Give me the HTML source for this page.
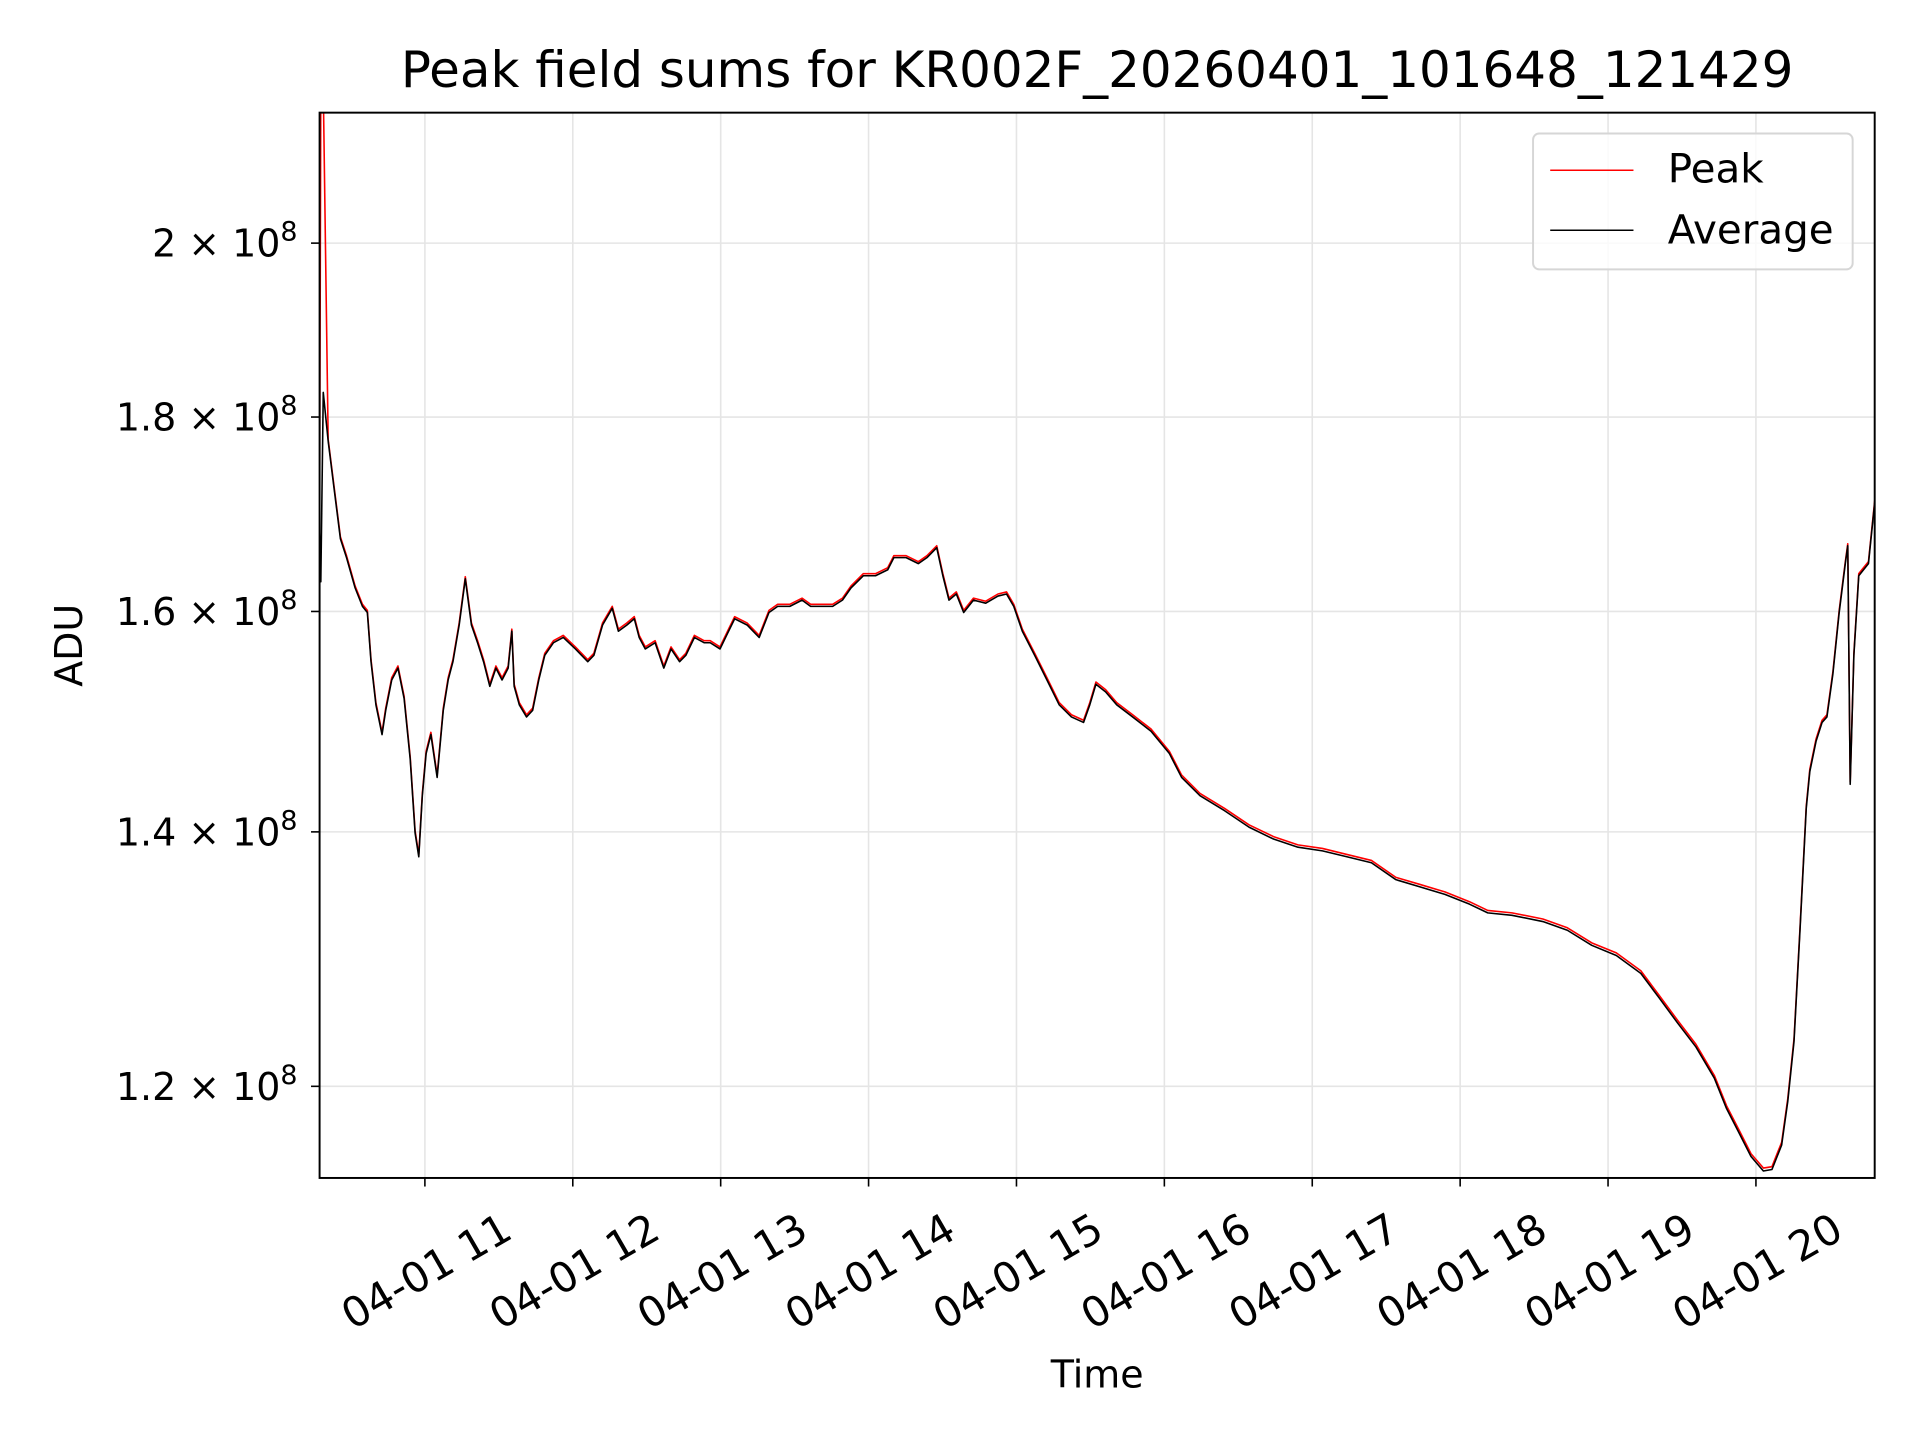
<!DOCTYPE html>
<html><head><meta charset="utf-8"><style>
html,body{margin:0;padding:0;background:#fff}
svg{display:block}
text{font-family:"DejaVu Sans","Liberation Sans",sans-serif;fill:#000}
</style></head><body>
<svg id="chart" width="1920" height="1440" viewBox="0 0 1568 1176">
<rect x="0" y="0" width="1568" height="1176" fill="#fff"/>
<g id="grid"></g>
<g id="series"></g>
<rect x="261" y="92" width="1270" height="870" fill="none" stroke="#000" stroke-width="1.6"/>
<g id="xticks"></g>
<g id="yticks"></g>
<text x="896" y="71" font-size="40.8" text-anchor="middle">Peak field sums for KR002F_20260401_101648_121429</text>
<text x="896" y="1133" font-size="31" text-anchor="middle">Time</text>
<text x="0" y="0" font-size="31" text-anchor="middle" transform="translate(67,527) rotate(-90)">ADU</text>
<g>
<rect x="1252" y="109" width="261" height="111" rx="5" fill="#fff" fill-opacity="0.8" stroke="#d6d6d6" stroke-width="1.6"/>
<line x1="1266" y1="139" x2="1334" y2="139" stroke="#f00" stroke-width="1.2"/>
<text x="1362" y="149" font-size="33">Peak</text>
<line x1="1266" y1="188" x2="1334" y2="188" stroke="#000" stroke-width="1.2"/>
<text x="1362" y="199" font-size="33">Average</text>
</g>
</svg>
<script>
const times = [10.288,10.296,10.313,10.346,10.387,10.429,10.470,10.528,10.578,10.611,10.636,10.669,10.710,10.735,10.776,10.818,10.859,10.901,10.934,10.959,10.983,11.008,11.041,11.083,11.124,11.157,11.190,11.232,11.273,11.315,11.356,11.397,11.439,11.480,11.522,11.563,11.588,11.604,11.638,11.687,11.729,11.770,11.811,11.869,11.936,12.018,12.101,12.143,12.201,12.267,12.308,12.366,12.416,12.449,12.490,12.557,12.615,12.664,12.722,12.764,12.822,12.888,12.929,12.995,13.053,13.095,13.178,13.260,13.327,13.385,13.467,13.550,13.608,13.674,13.757,13.823,13.881,13.964,14.047,14.130,14.171,14.254,14.337,14.395,14.461,14.502,14.544,14.593,14.643,14.709,14.792,14.875,14.933,14.982,15.040,15.123,15.206,15.289,15.372,15.454,15.496,15.537,15.603,15.678,15.786,15.910,16.034,16.117,16.241,16.407,16.572,16.738,16.903,17.069,17.234,17.400,17.566,17.731,17.897,18.063,18.187,18.351,18.559,18.725,18.890,19.056,19.222,19.346,19.470,19.594,19.718,19.801,19.884,19.967,20.050,20.108,20.174,20.215,20.257,20.298,20.340,20.364,20.406,20.447,20.480,20.521,20.563,20.604,20.621,20.637,20.662,20.695,20.728,20.761,20.803];
const averageValues = [1.684,1.629,1.827,1.774,1.722,1.672,1.653,1.623,1.605,1.599,1.552,1.512,1.485,1.507,1.535,1.546,1.518,1.463,1.399,1.379,1.431,1.468,1.485,1.447,1.507,1.535,1.552,1.587,1.632,1.587,1.570,1.552,1.529,1.546,1.535,1.546,1.581,1.529,1.512,1.501,1.507,1.535,1.558,1.570,1.575,1.564,1.552,1.558,1.587,1.603,1.581,1.587,1.593,1.575,1.564,1.570,1.546,1.564,1.552,1.558,1.575,1.570,1.570,1.564,1.581,1.593,1.587,1.575,1.599,1.605,1.605,1.611,1.605,1.605,1.605,1.611,1.623,1.635,1.635,1.641,1.653,1.653,1.647,1.653,1.663,1.635,1.611,1.617,1.599,1.611,1.608,1.615,1.617,1.605,1.581,1.558,1.535,1.512,1.501,1.496,1.512,1.531,1.524,1.512,1.501,1.488,1.468,1.447,1.431,1.418,1.404,1.394,1.387,1.384,1.379,1.374,1.360,1.354,1.348,1.340,1.333,1.331,1.326,1.319,1.307,1.299,1.285,1.266,1.247,1.229,1.206,1.184,1.167,1.150,1.140,1.141,1.158,1.189,1.233,1.319,1.420,1.452,1.479,1.496,1.501,1.541,1.599,1.647,1.665,1.441,1.558,1.635,1.641,1.647,1.709];
const peakValues = [1.700,2.250,2.250,1.776,1.724,1.674,1.655,1.625,1.607,1.601,1.554,1.514,1.487,1.509,1.537,1.548,1.520,1.465,1.401,1.381,1.433,1.470,1.487,1.449,1.509,1.537,1.554,1.589,1.634,1.589,1.572,1.554,1.531,1.548,1.537,1.548,1.583,1.531,1.514,1.503,1.509,1.537,1.560,1.572,1.577,1.566,1.554,1.560,1.589,1.605,1.583,1.589,1.595,1.577,1.566,1.572,1.548,1.566,1.554,1.560,1.577,1.572,1.572,1.566,1.583,1.595,1.589,1.577,1.601,1.607,1.607,1.613,1.607,1.607,1.607,1.613,1.625,1.637,1.637,1.643,1.655,1.655,1.649,1.655,1.665,1.637,1.613,1.619,1.601,1.613,1.610,1.617,1.619,1.607,1.583,1.560,1.537,1.514,1.503,1.498,1.514,1.533,1.526,1.514,1.503,1.490,1.470,1.449,1.433,1.420,1.406,1.396,1.389,1.386,1.381,1.376,1.362,1.356,1.350,1.342,1.335,1.333,1.328,1.321,1.309,1.301,1.287,1.268,1.249,1.231,1.208,1.186,1.169,1.152,1.142,1.143,1.160,1.191,1.235,1.321,1.422,1.454,1.481,1.498,1.503,1.543,1.601,1.649,1.667,1.443,1.560,1.637,1.643,1.649,1.711];
const xTickHours = [11,12,13,14,15,16,17,18,19,20];
const xTickLabels = ["04-01 11","04-01 12","04-01 13","04-01 14","04-01 15","04-01 16","04-01 17","04-01 18","04-01 19","04-01 20"];
const yTickValues = [1.2,1.4,1.6,1.8,2.0];
const yTickLabels = ["1.2","1.4","1.6","1.8","2"];

const L=261,R=1531,T=92,B=962;
const tMin=10.288,tMax=20.803;
const vMax=2.1645,vMin=1.1352;
function xs(t){return L+(t-tMin)/(tMax-tMin)*(R-L);}
function ys(v){return T+(Math.log(vMax)-Math.log(v))/(Math.log(vMax)-Math.log(vMin))*(B-T);}
const NS="http://www.w3.org/2000/svg";
function mk(tag,attrs,parent){const e=document.createElementNS(NS,tag);for(const k in attrs)e.setAttribute(k,attrs[k]);parent.appendChild(e);return e;}
const grid=document.getElementById('grid'),xt=document.getElementById('xticks'),yt=document.getElementById('yticks'),ser=document.getElementById('series');
xTickHours.forEach((h,i)=>{
  const x=xs(h);
  const g=mk('line',{x1:x,y1:T,x2:x,y2:B,stroke:'#e5e5e5','stroke-width':1.3},grid);
  
  
  const tk=mk('line',{x1:x,y1:B,x2:x,y2:B+7,stroke:'#000','stroke-width':1.3},xt);
  
  
  const tx=mk('text',{x:0,y:12,'font-size':34,'text-anchor':'middle',transform:`translate(${x+1},${B+76}) rotate(-30)`},xt);
  tx.textContent=xTickLabels[i];
  
  
});
yTickValues.forEach((v,i)=>{
  const y=ys(v);
  const g=mk('line',{x1:L,y1:y,x2:R,y2:y,stroke:'#e5e5e5','stroke-width':1.3},grid);
  
  
  const tk=mk('line',{x1:L-7,y1:y,x2:L,y2:y,stroke:'#000','stroke-width':1.3},yt);
  
  
  const tx=mk('text',{x:243,y:y+11,'font-size':31,'text-anchor':'end'},yt);
  
  
  tx.appendChild(document.createTextNode(yTickLabels[i]+' \u00d7 10'));
  const sup=mk('tspan',{'font-size':22,dy:-13},tx);
  sup.textContent='8';
});
function path(vals,color,name){
  const d=times.map((t,i)=>(i?'L':'M')+xs(t).toFixed(1)+','+Math.max(T-20,ys(vals[i])).toFixed(1)).join(' ');
  const p=mk('path',{d:d,fill:'none',stroke:color,'stroke-width':1.3,'stroke-linejoin':'round','clip-path':'url(#clip)'},ser);
  
  
}
const defs=mk('defs',{},document.getElementById('chart'));
const cp=mk('clipPath',{id:'clip'},defs);
mk('rect',{x:L,y:T,width:R-L,height:B-T},cp);
path(peakValues,'#ff0000','peak-line');
path(averageValues,'#000000','average-line');
</script>
</body></html>
